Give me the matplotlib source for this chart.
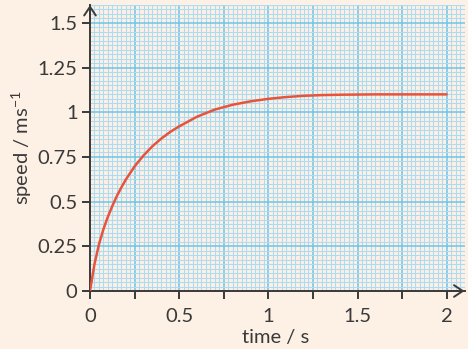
import matplotlib
matplotlib.use("Agg")
import matplotlib.pyplot as plt
from matplotlib.ticker import MultipleLocator, FuncFormatter

# speed-time readings
time_s = [0, 0.025, 0.05, 0.075, 0.1, 0.125, 0.15, 0.175, 0.2, 0.25, 0.3, 0.35,
          0.4, 0.45, 0.5, 0.6, 0.7, 0.8, 0.9, 1.0, 1.1, 1.2, 1.3, 1.4, 1.6, 2.0]
speed = [0, 0.15, 0.26, 0.345, 0.415, 0.475, 0.53, 0.578, 0.622, 0.697, 0.758,
         0.81, 0.853, 0.89, 0.921, 0.975, 1.015, 1.042, 1.061, 1.075, 1.085,
         1.092, 1.096, 1.098, 1.1, 1.1]

x_ticks = [0, 0.25, 0.5, 0.75, 1, 1.25, 1.5, 1.75, 2]
y_ticks = [0, 0.25, 0.5, 0.75, 1, 1.25, 1.5]
y_tick_labels = ["0", "0.25", "0.5", "0.75", "1", "1.25", "1.5"]

BG = "#fdf0e5"
INK = "#3a3a3a"
MAJOR = "#6cc4ea"
MINOR = "#acdcf2"
CURVE = "#e8533c"

plt.rcParams["font.family"] = ["Lato", "DejaVu Sans"]
plt.rcParams["mathtext.fontset"] = "custom"
plt.rcParams["mathtext.rm"] = "Lato"
plt.rcParams["mathtext.it"] = "Lato"

W, H = 468, 349
fig = plt.figure(figsize=(W / 100, H / 100), dpi=100, facecolor=BG)
x0, x1, y0, y1 = 90, 464.5, 291, 5
ax = fig.add_axes([x0 / W, 1 - y0 / H, (x1 - x0) / W, (y0 - y1) / H])
ax.set_facecolor(BG)
ax.set_xlim(0, 2.1)
ax.set_ylim(0, 1.6)

# graph paper
ax.xaxis.set_minor_locator(MultipleLocator(0.025))
ax.yaxis.set_minor_locator(MultipleLocator(0.025))
ax.set_xticks(x_ticks)
ax.set_yticks(y_ticks)
ax.set_yticklabels(y_tick_labels)
ax.xaxis.set_major_formatter(FuncFormatter(
    lambda v, p: ("%g" % v) if abs(v * 2 - round(v * 2)) < 1e-9 else ""))
ax.grid(which="minor", color=MINOR, lw=0.75, zorder=0)
ax.grid(which="major", color=MAJOR, lw=1.1, zorder=0)
ax.set_axisbelow(True)

for s in ("top", "right"):
    ax.spines[s].set_visible(False)
for s in ("left", "bottom"):
    ax.spines[s].set_color(INK)
    ax.spines[s].set_linewidth(1.4)

ax.tick_params(which="minor", length=0)
ax.tick_params(which="major", direction="out", length=6, width=1.4, color=INK,
               labelsize=14.5, labelcolor=INK)
ax.tick_params(axis="y", pad=3)
ax.tick_params(axis="x", pad=6)

# axis arrows
arrow = dict(arrowstyle="->,head_length=0.45,head_width=0.3", color=INK, lw=1.4,
             mutation_scale=14, shrinkA=0, shrinkB=0)
ax.annotate("", xy=(0, 1.6), xytext=(0, 1.5), arrowprops=arrow, annotation_clip=False)
ax.annotate("", xy=(2.1, 0), xytext=(2.0, 0), arrowprops=arrow, annotation_clip=False)

ax.plot(time_s, speed, color=CURVE, lw=1.8, solid_capstyle="round",
        solid_joinstyle="round", zorder=3)

fig.text(276 / W, 1 - 338 / H, "time / s", ha="center", va="center",
         fontsize=14.5, color=INK)
fig.text(22 / W, 1 - 148 / H, r"speed / ms$^{-1}$", ha="center", va="center",
         rotation=90, fontsize=14.5, color=INK)

fig.savefig("out.png", dpi=100, facecolor=BG)
